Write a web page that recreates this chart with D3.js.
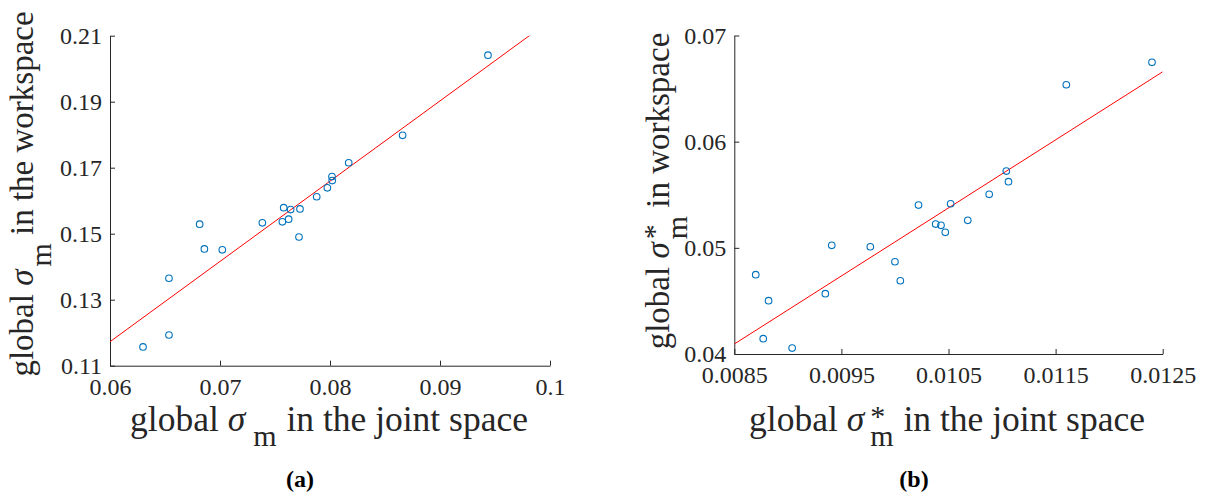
<!DOCTYPE html>
<html>
<head>
<meta charset="utf-8">
<script src="https://cdn.jsdelivr.net/npm/d3@7"></script>
<style>
  html, body { margin: 0; padding: 0; background: #fff; }
  svg { display: block; }
</style>
</head>
<body>
<svg id="chart" width="1205" height="497"></svg>
<script>
// ---- (a) global sigma_m: joint space vs workspace ----
const jointA = [0.0630, 0.06536, 0.06536, 0.06815, 0.06858, 0.07021, 0.07385, 0.07567, 0.07579, 0.07624,
                0.07642, 0.07727, 0.07718, 0.07879, 0.07976, 0.08018, 0.0802, 0.0817, 0.0866, 0.09436];
const workA  = [0.1157, 0.1193, 0.1365, 0.1529, 0.1454, 0.1451, 0.1533, 0.1536, 0.1579, 0.1544,
                0.1573, 0.1575, 0.1490, 0.1612, 0.1639, 0.1673, 0.1661, 0.1715, 0.1798, 0.2041];
const fitA = [0.11727, 2.4325];          // [value at x = 0.06, slope]
const xTicksA = [0.06, 0.07, 0.08, 0.09, 0.1];
const xTickLabelsA = ["0.06", "0.07", "0.08", "0.09", "0.1"];
const yTicksA = [0.11, 0.13, 0.15, 0.17, 0.19, 0.21];
const yTickLabelsA = ["0.11", "0.13", "0.15", "0.17", "0.19", "0.21"];

// ---- (b) global sigma*_m: joint space vs workspace ----
const jointB = [0.0087, 0.00882, 0.00877, 0.00904, 0.00935, 0.00941, 0.00977, 0.0100, 0.01005, 0.01022,
                0.01038, 0.01043, 0.01047, 0.01052, 0.01068, 0.01088, 0.01104, 0.01106, 0.0116, 0.0124];
const workB  = [0.04747, 0.04502, 0.04144, 0.04056, 0.04568, 0.05024, 0.0501, 0.04869, 0.0469, 0.05403,
                0.05224, 0.05212, 0.05146, 0.05415, 0.05259, 0.05504, 0.05723, 0.05623, 0.06536, 0.06747];
const fitB = [0.04094, 6.41];            // [value at x = 0.0085, slope]
const xTicksB = [0.0085, 0.0095, 0.0105, 0.0115, 0.0125];
const xTickLabelsB = ["0.0085", "0.0095", "0.0105", "0.0115", "0.0125"];
const yTicksB = [0.04, 0.05, 0.06, 0.07];
const yTickLabelsB = ["0.04", "0.05", "0.06", "0.07"];

const SERIF = "'Liberation Serif', 'Times New Roman', Times, serif";
const AX = "#262626";
const MARK = "#0072BD";
const FIT = "#FF0000";
const XTITLE_SIZE = 35.5;
const YTITLE_SIZE = 33;
const SUB_SIZE = 30;
const TICK_SIZE = 24;

const svg = d3.select("#chart");

// Build a label out of pieces (sub/superscripts) and return its group + width.
function richText(parent, parts, baseSize) {
  const g = parent.append("g");
  let x = 0;
  parts.forEach(p => {
    const items = p.stack ? p.stack : [p];
    let wMax = 0;
    x += p.dx || 0;
    items.forEach(it => {
      const t = g.append("text")
        .attr("x", x)
        .attr("y", it.dy || 0)
        .style("font-family", SERIF)
        .style("font-size", (it.size || baseSize) + "px")
        .style("font-style", it.italic ? "italic" : "normal")
        .style("fill", AX)
        .style("white-space", "pre")
        .attr("xml:space", "preserve")
        .text(it.t);
      wMax = Math.max(wMax, t.node().getComputedTextLength());
    });
    x += wMax;
  });
  return { g, width: x };
}

function panel(cfg) {
  const x = d3.scaleLinear().domain(cfg.xDomain).range(cfg.xRange);
  const y = d3.scaleLinear().domain(cfg.yDomain).range(cfg.yRange);
  const root = svg.append("g");

  const clipId = "clip-" + cfg.id;
  root.append("clipPath").attr("id", clipId)
    .append("rect")
    .attr("x", cfg.xRange[0]).attr("y", cfg.yRange[1])
    .attr("width", cfg.xRange[1] - cfg.xRange[0])
    .attr("height", cfg.yRange[0] - cfg.yRange[1]);

  // axes (inward ticks, no box)
  const xAxis = d3.axisBottom(x).tickValues(cfg.xTicks)
    .tickFormat((d, i) => cfg.xLabels[i]).tickSizeInner(-5).tickSizeOuter(0).tickPadding(0);
  const yAxis = d3.axisLeft(y).tickValues(cfg.yTicks)
    .tickFormat((d, i) => cfg.yLabels[i]).tickSizeInner(-5).tickSizeOuter(0).tickPadding(8);

  const gx = root.append("g").attr("transform", `translate(0,${cfg.yRange[0]})`).call(xAxis);
  const gy = root.append("g").attr("transform", `translate(${cfg.xRange[0]},0)`).call(yAxis);
  [gx, gy].forEach(g => {
    g.select(".domain").attr("stroke", AX).attr("stroke-width", 1);
    g.selectAll(".tick line").attr("stroke", AX).attr("stroke-width", 1);
    g.selectAll(".tick text")
      .style("font-family", SERIF).style("font-size", TICK_SIZE + "px").attr("fill", AX);
  });
  gx.selectAll(".tick text").attr("y", 29).attr("dy", null);
  gy.selectAll(".tick text").attr("dy", "0.33em");

  // least-squares line
  const line = d3.line().x(d => x(d)).y(d => y(cfg.fit[0] + cfg.fit[1] * (d - cfg.xDomain[0])));
  root.append("path")
    .datum(cfg.xDomain)
    .attr("clip-path", `url(#${clipId})`)
    .attr("d", line)
    .attr("fill", "none")
    .attr("stroke", FIT)
    .attr("stroke-width", 1);

  // data points
  root.append("g").selectAll("circle")
    .data(cfg.xs.map((v, i) => [v, cfg.ys[i]]))
    .join("circle")
    .attr("cx", d => x(d[0]))
    .attr("cy", d => y(d[1]))
    .attr("r", 3.3)
    .attr("fill", "none")
    .attr("stroke", MARK)
    .attr("stroke-width", 1.1);

  // x label
  const xl = richText(root, cfg.xTitle, XTITLE_SIZE);
  xl.g.attr("transform", `translate(${cfg.xTitlePos[0] - xl.width / 2},${cfg.xTitlePos[1]})`);

  // y label (rotated)
  const yl = richText(root, cfg.yTitle, YTITLE_SIZE);
  yl.g.attr("transform",
    `translate(${cfg.yTitlePos[0]},${cfg.yTitlePos[1]}) rotate(-90) translate(${-yl.width / 2},0)`);

  // panel caption
  root.append("text")
    .attr("x", cfg.capPos[0]).attr("y", cfg.capPos[1])
    .attr("text-anchor", "middle")
    .style("font-family", SERIF).style("font-size", "24px").style("font-weight", "bold")
    .attr("fill", "#000")
    .text(cfg.caption);
}

panel({
  id: "a",
  xs: jointA, ys: workA, fit: fitA,
  xDomain: [0.06, 0.1], yDomain: [0.11, 0.21],
  xRange: [110, 550], yRange: [365.7, 35.7],
  xTicks: xTicksA, xLabels: xTickLabelsA, yTicks: yTicksA, yLabels: yTickLabelsA,
  xTitle: [
    { t: "global " }, { t: "σ", italic: true },
    { t: "m", size: SUB_SIZE, dy: 15, dx: 8 },
    { t: " in the joint space", dx: 1 }
  ],
  xTitlePos: [329, 431],
  yTitle: [
    { t: "global " }, { t: "σ", italic: true },
    { t: "m", size: SUB_SIZE, dy: 18, dx: 3 },
    { t: " in the workspace", dx: 0 }
  ],
  yTitlePos: [33, 194],
  caption: "(a)", capPos: [300, 487]
});

panel({
  id: "b",
  xs: jointB, ys: workB, fit: fitB,
  xDomain: [0.0085, 0.0125], yDomain: [0.04, 0.07],
  xRange: [734.3, 1162.7], yRange: [354, 35.5],
  xTicks: xTicksB, xLabels: xTickLabelsB, yTicks: yTicksB, yLabels: yTickLabelsB,
  xTitle: [
    { t: "global " }, { t: "σ", italic: true },
    { stack: [{ t: "m", size: SUB_SIZE, dy: 15 }, { t: "*", size: SUB_SIZE, dy: -5 }], dx: 6 },
    { t: " in the joint space", dx: 1 }
  ],
  xTitlePos: [947, 431],
  yTitle: [
    { t: "global " }, { t: "σ", italic: true },
    { stack: [{ t: "m", size: SUB_SIZE, dy: 18 }, { t: "*", size: SUB_SIZE, dy: -5 }], dx: 3 },
    { t: " in workspace", dx: 0 }
  ],
  yTitlePos: [669, 191],
  caption: "(b)", capPos: [914, 487]
});
</script>
</body>
</html>
